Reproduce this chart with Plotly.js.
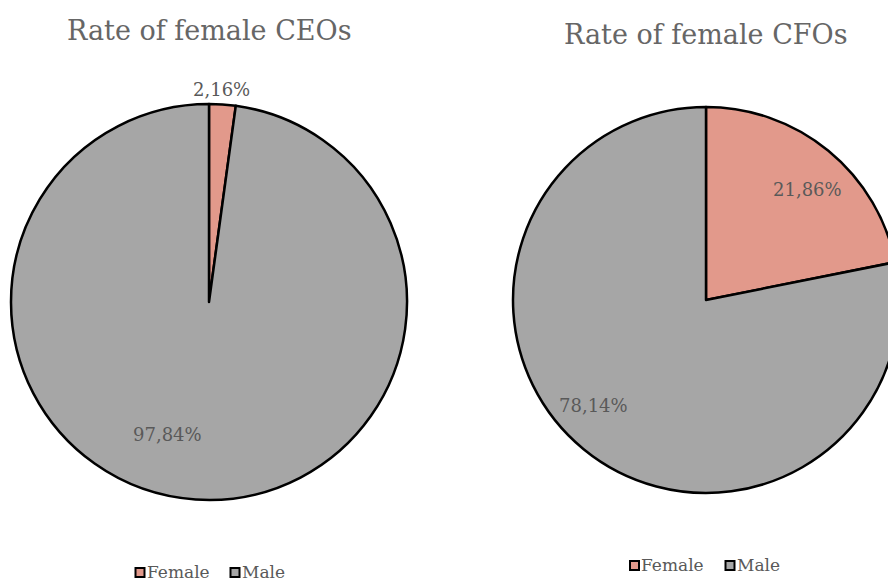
<!DOCTYPE html>
<html>
<head>
<meta charset="utf-8">
<script src="https://cdn.plot.ly/plotly-3.0.1.min.js"></script>
<style>
  html, body { margin: 0; padding: 0; background: #fff; overflow: hidden; width: 888px; height: 582px; }
  #chart { width: 910px; height: 582px; }
</style>
</head>
<body>
<div id="chart"></div>
<script>
// Gender split of executives
const categories = ['Female', 'Male'];
const ceoValues = [2.16, 97.84];
const cfoValues = [21.86, 78.14];
const chartTitles = ['Rate of female CEOs', 'Rate of female CFOs'];

const sliceColors = ['#E2998B', '#A6A6A6'];
const serif = 'Georgia, "DejaVu Serif", "Liberation Serif", serif';
const W = 910, H = 582;

// pixel helpers for paper coordinates
const px = x => x / W;
const py = y => 1 - y / H;

const fmt = v => v.toFixed(2).replace('.', ',') + '%';

function pieTrace(values, cx, cy, r) {
  return {
    type: 'pie',
    labels: categories,
    values: values,
    sort: false,
    direction: 'clockwise',
    rotation: 0,
    textinfo: 'none',
    hoverinfo: 'label+percent',
    showlegend: false,
    marker: { colors: sliceColors, line: { color: '#000', width: 2.5 } },
    domain: { x: [px(cx - r), px(cx + r)], y: [py(cy + r), py(cy - r)] }
  };
}

const data = [
  pieTrace(ceoValues, 209, 302, 198),
  pieTrace(cfoValues, 706, 300, 193)
];

const labelFont = { family: serif, size: 18, color: '#595959' };
const titleFont = { family: serif, size: 27, color: '#666666' };
const legendFont = { family: serif, size: 17, color: '#595959' };

const base = { xref: 'paper', yref: 'paper', showarrow: false, xanchor: 'center', yanchor: 'middle' };

const annotations = [
  { x: px(209), y: py(30), text: chartTitles[0], font: titleFont },
  { x: px(706), y: py(34), text: chartTitles[1], font: titleFont },
  { x: px(221), y: py(89), text: fmt(ceoValues[0]), font: labelFont },
  { x: px(167), y: py(434), text: fmt(ceoValues[1]), font: labelFont },
  { x: px(807), y: py(190), text: fmt(cfoValues[0]), font: labelFont },
  { x: px(593), y: py(405), text: fmt(cfoValues[1]), font: labelFont }
].map(a => Object.assign({}, base, a));

// Legend rows under each pie: colour swatch followed by the category name
const shapes = [];
function addLegend(swatchX, swatchTop) {
  categories.forEach((name, i) => {
    const x0 = swatchX[i];
    shapes.push({
      type: 'rect', xref: 'paper', yref: 'paper',
      x0: px(x0), x1: px(x0 + 9), y0: py(swatchTop + 9), y1: py(swatchTop),
      fillcolor: sliceColors[i], line: { color: '#000', width: 2 }
    });
    annotations.push(Object.assign({}, base, {
      x: px(x0 + 10), y: py(swatchTop + 4), xanchor: 'left',
      height: 14, borderpad: 0,
      text: name, font: legendFont
    }));
  });
}
addLegend([135.5, 230.5], 568);
addLegend([630, 725.5], 561);

const layout = {
  width: W,
  height: H,
  margin: { l: 0, r: 0, t: 0, b: 0, autoexpand: false },
  paper_bgcolor: '#fff',
  showlegend: false,
  annotations: annotations,
  shapes: shapes
};

Plotly.newPlot('chart', data, layout, { displayModeBar: false, staticPlot: true });
</script>
</body>
</html>
